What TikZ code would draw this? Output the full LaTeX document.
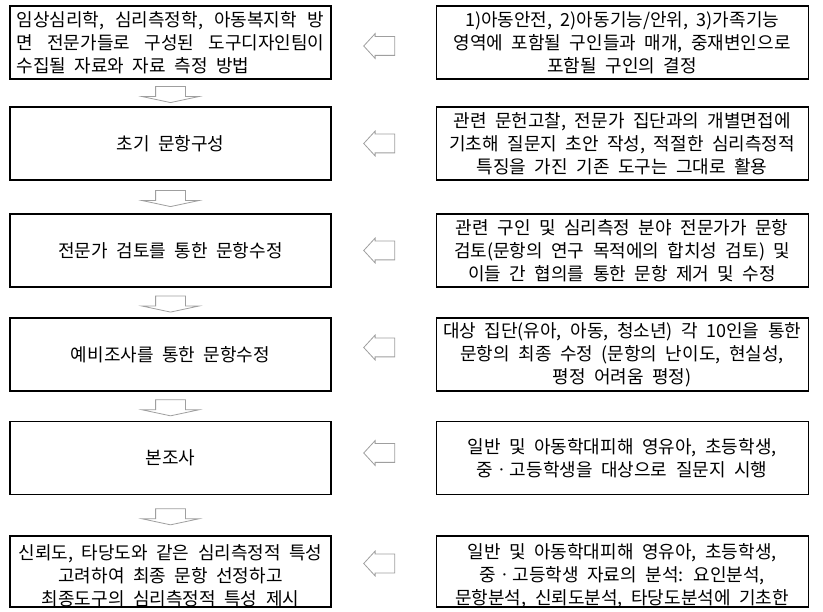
\documentclass[tikz,border=0pt]{standalone}
\usepackage{fontspec}
\setmainfont{Noto Sans CJK KR}
\usetikzlibrary{positioning,shapes.arrows,calc}
\newcommand{\boxfont}{\fontsize{18pt}{23pt}\selectfont\spaceskip 8.5pt plus 2pt minus 1pt\relax}
\begin{document}
\begin{tikzpicture}[x=1pt, y=-1pt,
  txt/.style={inner sep=0pt, align=center, font={\boxfont}},
  box/.style={txt, draw, line width=1.1pt},
  lbox/.style={box, minimum width=321pt, minimum height=73pt},
  rbox/.style={box, minimum width=372pt, minimum height=73pt},
  downarr/.style={single arrow, draw=gray!75, fill=white, line width=.8pt,
    rotate=-90, inner xsep=0pt, inner ysep=14.5pt, minimum height=16pt,
    single arrow head extend=13.5pt, single arrow tip angle=156},
  leftarr/.style={single arrow, draw=gray!75, fill=white, line width=.8pt,
    rotate=180, inner xsep=0pt, inner ysep=9pt, minimum height=31pt,
    single arrow head extend=3pt, single arrow tip angle=95}]
   \useasboundingbox (0,0) rectangle (823,612);

%Schritte links
\node[lbox] (s1) at (170.5,42.5) {\makebox[308pt][s]{임상심리학,\hfill 심리측정학,\hfill 아동복지학\hfill 방}\\
  \makebox[308pt][s]{면\hfill 전문가들로\hfill 구성된\hfill 도구디자인팀이}\\
  \makebox[308pt][l]{수집될 자료와 자료 측정 방법}};
\node[lbox] (s2) at (170.5,143.5) {초기 문항구성};
\node[lbox] (s3) at (170.5,250.5) {전문가 검토를 통한 문항수정};
\node[lbox] (s4) at (170.5,354.5) {예비조사를 통한 문항수정};
\node[lbox] (s5) at (170.5,458) {본조사};
\node[lbox, minimum height=71pt] (s6) at (170.5,571.5) {};
\node[txt] (s6t) at ([yshift=-4pt]s6.center) {신뢰도, 타당도와 같은 심리측정적 특성\\
  고려하여 최종 문항 선정하고\\ 최종도구의 심리측정적 특성 제시};

%Beschreibung rechts
\node[rbox, right=104pt of s1] (r1) {1)아동안전, 2)아동기능/안위, 3)가족기능\\
  영역에 포함될 구인들과 매개, 중재변인으로\\ 포함될 구인의 결정};
\node[rbox, right=104pt of s2] (r2) {관련 문헌고찰, 전문가 집단과의 개별면접에\\
  기초해 질문지 초안 작성, 적절한 심리측정적\\ 특징을 가진 기존 도구는 그대로 활용};
\node[rbox, right=104pt of s3] (r3) {관련 구인 및 심리측정 분야 전문가가 문항\\
  검토(문항의 연구 목적에의 합치성 검토) 및\\ 이들 간 협의를 통한 문항 제거 및 수정};
\node[rbox, right=104pt of s4] (r4) {대상 집단(유아, 아동, 청소년) 각 10인을 통한\\
  문항의 최종 수정 (문항의 난이도, 현실성,\\ 평정 어려움 평정)};
\node[rbox, right=104pt of s5] (r5) {일반 및 아동학대피해 영유아, 초등학생,\\
  중ㆍ고등학생을 대상으로 질문지 시행};
\node[rbox, minimum height=71pt, right=104pt of s6] (r6) {};
\node[txt] (r6t) at ([yshift=-4pt]r6.center) {일반 및 아동학대피해 영유아, 초등학생,\\
  중ㆍ고등학생 자료의 분석: 요인분석,\\ 문항분석, 신뢰도분석, 타당도분석에 기초한};

%Pfeile
\foreach \i/\j in {1/2,2/3,3/4,4/5,5/6}
  \node[downarr] (d\i) at ($(s\i.south)!.5!(s\j.north)$) {};
\foreach \i/\dy in {1/-3.5,2/0,3/0,4/7,5/5,6/8}
  \node[yshift=\dy pt, leftarr] (l\i) at ($(s\i.east)!.5!(r\i.west)$) {};
\end{tikzpicture}
\end{document}
